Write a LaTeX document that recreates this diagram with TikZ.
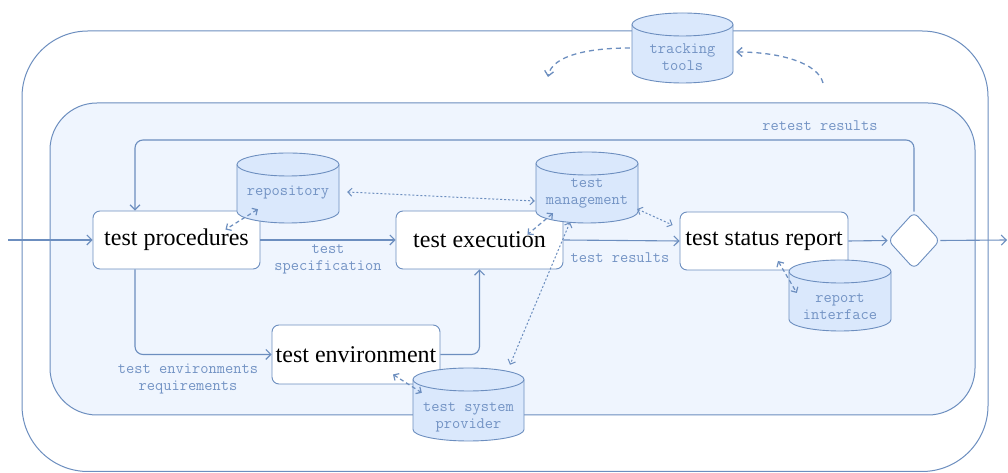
\documentclass[tikz,border=0pt]{standalone}
\usepackage{fontspec}
\setmainfont{Liberation Serif}
\usetikzlibrary{arrows.meta,shapes.geometric,calc}
\definecolor{bl}{HTML}{6C8EBF}
\definecolor{cylfill}{HTML}{DAE8FC}
\definecolor{innerfill}{HTML}{EFF5FE}
\definecolor{lblc}{HTML}{7393C4}
\newcommand\dbcyl[7]{%
  \pgfmathsetmacro\cyT{473-#4}%
  \pgfmathsetmacro\cyB{473-#5}%
  \pgfmathsetmacro\cyrx{(#3-#2)/2}%
  \pgfmathsetmacro\cyTi{\cyT-11.5}%
  \pgfmathsetmacro\cyBi{\cyB+11.5}%
  \pgfmathsetmacro\cyx{(#2+#3)/2}%
  \pgfmathsetmacro\cyy{(\cyT+\cyB)/2}%
  \pgfmathsetmacro\cyw{#3-#2}%
  \pgfmathsetmacro\cyh{#5-#4}%
  \path[cylstyle] (#2,\cyTi) -- (#2,\cyBi) arc[start angle=180,end angle=360,x radius=\cyrx,y radius=11.5] -- (#3,\cyTi) arc[start angle=0,end angle=180,x radius=\cyrx,y radius=11.5] -- cycle;
  \draw[cylline] (#2,\cyTi) arc[start angle=180,end angle=360,x radius=\cyrx,y radius=11.5];
  \node[inner sep=0pt, minimum width=\cyw pt, minimum height=\cyh pt] (#1) at (\cyx,\cyy) {};
  \node[lbltext] (#1-t) at (\cyx,{473-#6}) {#7};
}
\begin{document}
\begin{tikzpicture}[x=1pt,y=1pt,
  proc/.style={draw=bl, fill=white, rounded corners=7pt, line width=0.9pt, minimum width=167pt, minimum height=58pt, inner sep=0pt, font=\fontsize{24}{28}\selectfont},
  conn/.style={draw=bl, line width=1.1pt, -{Straight Barb[length=5pt,width=10pt]}},
  lbltext/.style={text=lblc, font=\ttfamily\fontsize{16}{17}\selectfont, align=center, inner sep=0pt},
  dotarr/.style={draw=bl, line width=1pt, dash pattern=on 2pt off 2pt, arrows={Straight Barb[length=4pt,width=8pt]-Straight Barb[length=4pt,width=8pt]}},
  dasharr/.style={draw=bl, line width=1.2pt, dash pattern=on 4pt off 3pt, arrows={Straight Barb[length=4pt,width=8pt]-Straight Barb[length=4pt,width=8pt]}},
  trackarr/.style={draw=bl, line width=1.3pt, dash pattern=on 5pt off 4pt, -{Straight Barb[length=5pt,width=9pt]}},
  cylstyle/.style={draw=bl, fill=cylfill, line width=0.9pt},
  cylline/.style={draw=bl, line width=0.9pt},
]
\useasboundingbox (0,0) rectangle (1008,473);
\fill[white] (0,0) rectangle (1008,473);
% containers
\draw[draw=bl, line width=1pt, rounded corners=66pt] (22,1.5) rectangle (988,442);
\draw[draw=bl, fill=innerfill, line width=1pt, rounded corners=47pt] (50,58) rectangle (975,370);
% process nodes
\node[proc] (tp) at (176.5,233) {test procedures};
\node[proc] (te) at (479.5,233) {test execution};
\node[proc, minimum width=168pt] (tsr) at (764,232) {test status report};
\node[proc, minimum width=168pt, minimum height=59pt] (tenv) at (356,118.5) {test environment};
\node[draw=bl, fill=white, diamond, line width=0.9pt, minimum width=52pt, minimum height=57pt, inner sep=0pt, rounded corners=6pt] (gw) at (914,232.5) {};
% main connectors
\coordinate (in) at (8,233);
\coordinate (out) at (1007,233);
\coordinate (rt) at (135,333);
\draw[conn] (in) -- (tp.west);
\draw[conn] (gw.east) -- (out);
\draw[conn] (tp.east) -- (te.west);
\node[lbltext] (l1) at (328,214) {test\\specification};
\draw[conn] (te.east) -- (tsr.west);
\node[lbltext] (l2) at (620,215) {test results};
\draw[conn] (tsr.east) -- (gw.west);
\draw[conn, rounded corners=8pt] (gw.north) |- (rt) -- (rt |- tp.north);
\node[lbltext] (l3) at (820,347) {retest results};
\draw[conn, rounded corners=8pt] (rt |- tp.south) |- (tenv.west);
\node[lbltext] (l4) at (188,94.5) {test environments\\requirements};
\draw[conn, rounded corners=8pt] (tenv.east) -| (te.south);
% data stores
\dbcyl{repo}{237}{339}{153}{223}{193}{repository}
\dbcyl{tm}{536}{638}{152}{223}{193.5}{test\\management}
\dbcyl{ri}{789}{891}{260}{331}{307}{report\\interface}
\dbcyl{tsp}{413}{524}{368}{441}{417}{test system\\provider}
\dbcyl{tt}{632}{733}{13}{83}{57.5}{tracking\\tools}
% dotted / dashed associations
\draw[dotarr] ($(repo.east)+(8,-4)$) -- ($(tm.west)+(-1,-13.5)$);
\draw[dasharr] ($(repo.south)+(-30,14)$) -- ($(tp.north east)+(-35,-19)$);
\draw[dasharr] ($(tm.south)+(-34,10)$) -- ($(te.north east)+(-36,-24)$);
\draw[dotarr] ($(tm.east)+(-1,-21.5)$) -- ($(tsr.north west)+(-7,-13.5)$);
\draw[dotarr] ($(tm.south)+(-17,1)$) -- ($(tsp.north)+(41.5,3)$);
\draw[dasharr] ($(tenv.south)+(37,10)$) -- ($(tsp.north west)+(9,-25)$);
\draw[dasharr] ($(tsr.south)+(14,9.5)$) -- ($(ri.west)+(8,2.5)$);
\draw[trackarr] ($(tt.west)+(-2,0)$) .. controls (590,425) and (552,418) .. (548,396);
\draw[trackarr] (823,390) .. controls (818,410) and (780,421) .. ($(tt.east)+(3,-4)$);
\end{tikzpicture}
\end{document}
